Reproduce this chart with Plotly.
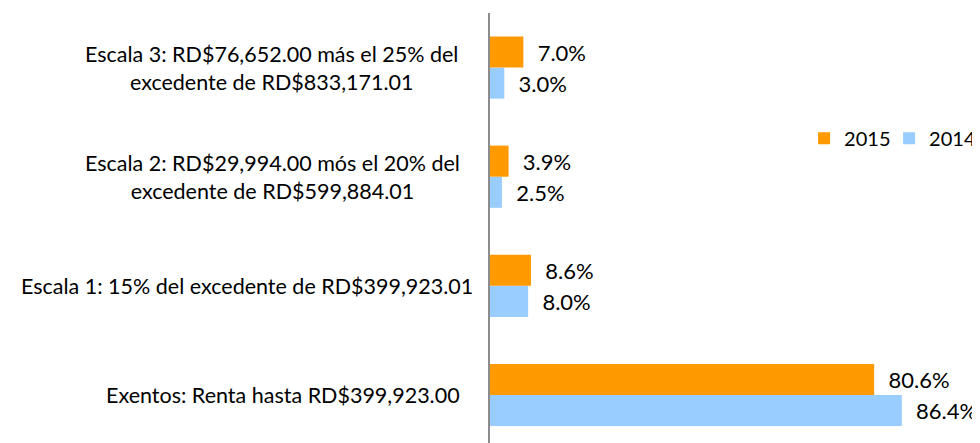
import plotly.graph_objects as go

categories = [
    "Exentos: Renta hasta RD$399,923.00",
    "Escala 1: 15% del excedente de RD$399,923.01",
    "Escala 2: RD$29,994.00 mós el 20% del<br>excedente de RD$599,884.01",
    "Escala 3: RD$76,652.00 más el 25% del<br>excedente de RD$833,171.01",
]
cat_keys = ["Exentos", "Escala 1", "Escala 2", "Escala 3"]
values_2015 = [80.6, 8.6, 3.9, 7.0]
values_2014 = [86.4, 8.0, 2.5, 3.0]

FONT = "Lato"
FS_CAT = 21.5
FS_LBL = 22
FS_LEG = 20
label_shift = [-28, -15, -28, -30]

fig = go.Figure()
pad = "\u00a0\u00a0"
fig.add_trace(go.Bar(
    y=cat_keys, x=values_2014, orientation="h", name="2014",
    marker=dict(color="#99CCFF", line=dict(width=0)),
    text=[f"{pad}{v:.1f}%" for v in values_2014], textposition="outside",
    textfont=dict(family=FONT, size=FS_LBL, color="#000000"), cliponaxis=False,
))
fig.add_trace(go.Bar(
    y=cat_keys, x=values_2015, orientation="h", name="2015",
    marker=dict(color="#FF9900", line=dict(width=0)),
    text=[f"{pad}{v:.1f}%" for v in values_2015], textposition="outside",
    textfont=dict(family=FONT, size=FS_LBL, color="#000000"), cliponaxis=False,
))

for key, lab, sh in zip(cat_keys, categories, label_shift):
    fig.add_annotation(
        x=0, xref="paper", y=key, yref="y", text=lab, showarrow=False,
        xanchor="right", yanchor="middle", align="center", xshift=sh,
        font=dict(family=FONT, size=FS_CAT, color="#000000"),
    )

fig.update_layout(
    width=972, height=435,
    margin=dict(l=482, r=0, t=5, b=0, autoexpand=False),
    paper_bgcolor="white", plot_bgcolor="white",
    barmode="group", bargap=0.43, bargroupgap=0,
    uniformtext=dict(mode=False),
    xaxis=dict(range=[0, 102.8], visible=False, fixedrange=True),
    yaxis=dict(
        categoryorder="array", categoryarray=cat_keys,
        range=[-0.44, 3.5], showticklabels=False, ticks="",
        showline=True, linecolor="#8C8C8C", linewidth=2, showgrid=False,
        zeroline=False,
    ),
    showlegend=True,
    legend=dict(
        orientation="h", traceorder="reversed",
        x=0.641, xanchor="left", y=0.709, yanchor="middle",
        font=dict(family=FONT, size=FS_LEG, color="#000000"),
        bgcolor="rgba(0,0,0,0)", itemwidth=30,
        entrywidth=40, entrywidthmode="pixels",
    ),
)

fig.write_html("out.html")
